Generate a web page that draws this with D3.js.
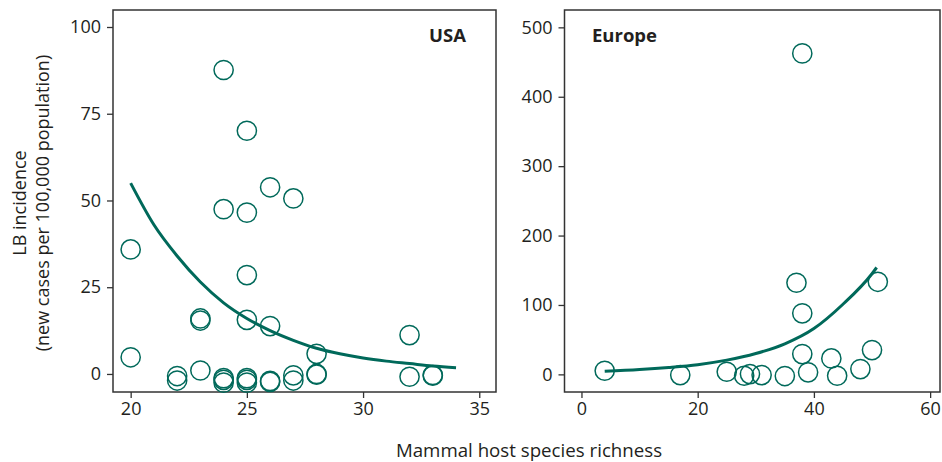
<!DOCTYPE html>
<html><head><meta charset="utf-8">
<script src="https://cdn.jsdelivr.net/npm/d3@7"></script>
<style>
body{margin:0;background:#fff;}
svg text{font-family:"Open Sans","Noto Sans",sans-serif;fill:#231f20;}
</style></head>
<body><svg id="c" width="942" height="462"></svg>
<script>
// USA panel data
const usaX = [24,25,26,27,24,25,20,25,23,23,25,26,32,28,20,23,22,22,24,24,24,25,25,25,26,26,27,27,28,28,32,33,33];
const usaY = [87.6,70.1,53.8,50.6,47.5,46.5,35.9,28.5,16.0,15.4,15.6,13.8,11.2,5.8,4.8,1.0,-0.6,-1.9,-1.2,-1.7,-2.5,-1.2,-1.7,-2.5,-2.0,-2.3,-0.4,-1.9,-0.2,0.0,-0.8,-0.3,-0.5];
const usaFitX = [20,21,22,23,24,25,26,27,28,29,30,31,32,33,34];
const usaFitY = [55,43,34,26.5,20.5,16,12.5,9.7,7.4,5.8,4.6,3.7,3.0,2.3,1.8];
const usaXTicks = [20,25,30,35];
const usaYTicks = [0,25,50,75,100];
// Europe panel data
const euX = [4,17,25,28,29,31,35,37,38,38,39,43,44,48,50,51,38];
const euY = [5.2,-1,3.8,-2,0.4,-1,-2.4,132,87.9,29.2,2.9,23,-2,7.6,35,133.4,462.5];
const euFitX = [4,10,15,20,25,30,35,40,45,50,50.8];
const euFitY = [4.5,7,10,14,20.5,30,44,66,101,145,154];
const euXTicks = [0,20,40,60];
const euYTicks = [0,100,200,300,400,500];
const panelLabels = ["USA","Europe"];

const svg = d3.select("#c");
const teal = "#00695a";
const axisCol = "#333";

function panel(cfg){
  const x = d3.scaleLinear().domain(cfg.xd).range([cfg.x0,cfg.x1]);
  const y = d3.scaleLinear().domain(cfg.yd).range([cfg.y1,cfg.y0]);
  const g = svg.append("g");
  g.append("rect").attr("x",cfg.x0).attr("y",cfg.y0).attr("width",cfg.x1-cfg.x0).attr("height",cfg.y1-cfg.y0)
   .attr("fill","none").attr("stroke",axisCol).attr("stroke-width",1.5);
  const ax = g.append("g").attr("transform",`translate(0,${cfg.y1})`)
    .call(d3.axisBottom(x).tickValues(cfg.xt).tickSize(6).tickPadding(4).tickFormat(d3.format("d")));
  const ay = g.append("g").attr("transform",`translate(${cfg.x0},0)`)
    .call(d3.axisLeft(y).tickValues(cfg.yt).tickSize(6).tickPadding(6).tickFormat(d3.format("d")));
  [ax,ay].forEach(a=>{
    a.select(".domain").remove();
    a.selectAll("line").attr("stroke",axisCol).attr("stroke-width",1.3);
    a.selectAll("text").style("font-size","18px").attr("fill","#231f20").style("font-family","'Open Sans',sans-serif");
  });
  const pts = cfg.px.map((d,i)=>[d,cfg.py[i]]);
  g.selectAll("circle.p").data(pts).join("circle").attr("class","p")
    .attr("cx",d=>x(d[0])).attr("cy",d=>y(d[1])).attr("r",9.6)
    .attr("fill","none").attr("stroke",teal).attr("stroke-width",1.5);
  const fit = cfg.fx.map((d,i)=>[d,cfg.fy[i]]);
  g.append("path").datum(fit)
    .attr("d",d3.line().x(d=>x(d[0])).y(d=>y(d[1])).curve(d3.curveMonotoneX))
    .attr("fill","none").attr("stroke",teal).attr("stroke-width",3);
  g.append("text").attr("x",cfg.lx).attr("y",42).attr("text-anchor",cfg.la)
    .style("font-size","18.5px").style("font-weight","bold").text(cfg.label);
}

panel({x0:113,x1:496,y0:10,y1:392,xd:[19.24,35.72],yd:[-5.2,104.9],xt:usaXTicks,yt:usaYTicks,
  px:usaX,py:usaY,fx:usaFitX,fy:usaFitY,label:panelLabels[0],lx:466,la:"end"});
panel({x0:564.5,x1:940,y0:10,y1:392,xd:[-2.92,61.7],yd:[-25.4,525],xt:euXTicks,yt:euYTicks,
  px:euX,py:euY,fx:euFitX,fy:euFitY,label:panelLabels[1],lx:592,la:"start"});

svg.append("text").attr("x",529).attr("y",457).attr("text-anchor","middle")
  .style("font-size","18.7px").text("Mammal host species richness");
const yt = svg.append("text").attr("transform","translate(26,203) rotate(-90)").attr("text-anchor","middle")
  .style("font-size","18px");
yt.append("tspan").attr("x",0).attr("dy",0).text("LB incidence");
yt.append("tspan").attr("x",0).attr("dy",23).text("(new cases per 100,000 population)");
</script></body></html>
